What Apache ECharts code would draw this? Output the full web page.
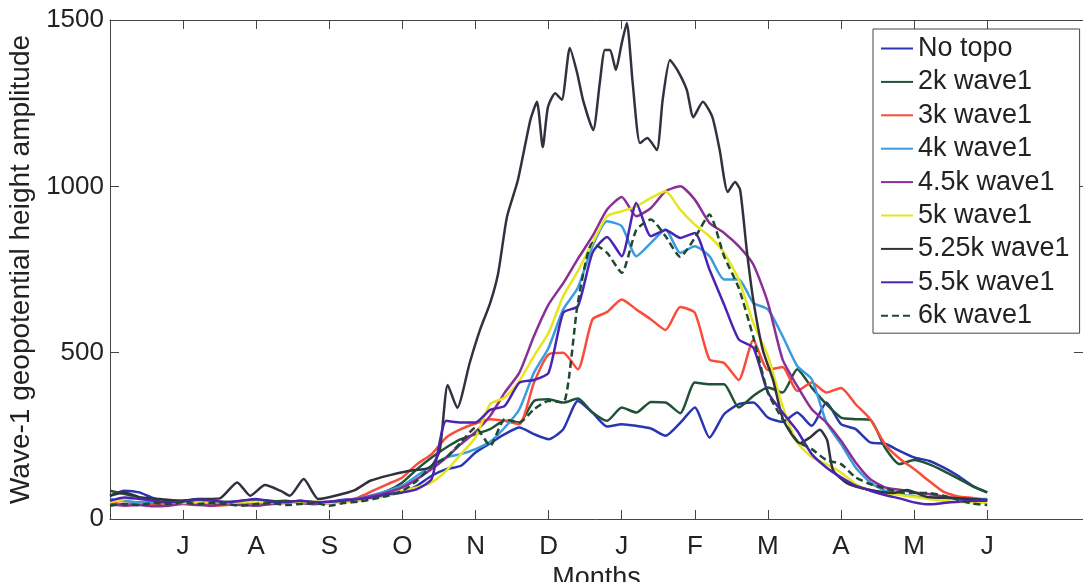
<!DOCTYPE html>
<html><head><meta charset="utf-8">
<script src="https://cdn.jsdelivr.net/npm/echarts@6/dist/echarts.min.js"></script>
<style>html,body{margin:0;padding:0;background:#fff}#c{width:1083px;height:582px}</style>
</head><body><div id="c"></div>
<script>
// ---- Data (months since June 1) ----
const monthLabels = ['J','A','S','O','N','D','J','F','M','A','M','J'];
const tickMonths = [1,2,3,4,5,6,7,8,9,10,11,12];
const seriesNames = ['No topo','2k wave1','3k wave1','4k wave1','4.5k wave1','5k wave1','5.25k wave1','5.5k wave1','6k wave1'];

const monthGrid = [0,0.2,0.4,0.6,0.8,1,1.2,1.4,1.6,1.8,2,2.2,2.4,2.6,2.8,3,3.2,3.4,3.6,3.8,4,4.2,4.4,4.6,4.8,5,5.2,5.4,5.6,5.8,6,6.2,6.4,6.6,6.8,7,7.2,7.4,7.6,7.8,8,8.2,8.4,8.6,8.8,9,9.2,9.4,9.6,9.8,10,10.2,10.4,10.6,10.8,11,11.2,11.4,11.6,11.8,12];

const noTopo = [70,85,80,62,55,55,60,55,50,55, 58,55,50,55,50,52,58,60,65,72, 80,100,130,150,160,200,228,255,275,255, 240,270,355,320,278,285,280,272,250,289, 335,245,315,345,350,305,292,320,280,350, 285,270,230,226,205,185,175,155,130,100, 80];
const twoK = [85,75,65,60,55,52,55,50,52,50, 48,52,55,50,52,48,55,60,70,85, 110,150,185,215,240,255,270,295,290,355, 360,350,362,320,295,335,320,352,350,318, 410,405,405,335,370,395,380,450,395,345, 305,300,298,215,165,177,165,145,122,98, 80];
const threeK = [50,45,50,45,48,50,45,40,42,48, 50,45,48,50,45,48,55,65,85,105, 125,165,195,245,270,287,300,295,285,410, 495,500,450,600,622,660,630,600,568,637, 620,480,469,418,538,448,457,385,410,380, 394,345,300,225,182,150,115,82,68,63, 57];
const fourK = [60,55,50,52,48,50,52,48,50,52, 50,48,50,52,48,50,55,62,72,85, 100,130,160,185,195,210,232,275,330,440, 515,630,695,820,895,880,790,830,870,800, 820,790,720,720,650,630,550,460,420,290, 225,155,110,85,75,68,65,63,62,60, 60];
const fourHalfK = [45,40,42,38,40,45,42,40,45,42, 40,45,50,48,45,50,55,60,70,80, 95,120,150,185,225,262,310,380,440,550, 645,709,782,850,930,968,910,935,985,1000, 960,890,860,820,765,650,480,400,330,290, 235,170,120,95,88,80,75,68,62,60, 55];
const fiveK = [50,60,65,55,50,48,50,52,48,50, 52,50,48,50,52,48,50,55,62,70, 85,95,110,145,195,245,345,365,415,490, 560,670,745,830,910,925,940,965,985,930, 885,850,800,720,589,490,340,230,186,165, 140,105,87,78,72,66,60,55,50,50, 48];
const fiveQuarterMonths = [0,0.2,0.41,0.68,0.96,1.23,1.5,1.74,1.92,2.12,2.33,2.46,2.65,2.85,3.08,3.35,3.56,3.83,4.10,4.38,4.51,4.62,4.75,4.92,5.06,5.20,5.31,5.43,5.58,5.75,5.84,5.92,5.99,6.09,6.18,6.29,6.39,6.47,6.61,6.70,6.77,6.84,6.92,7.00,7.07,7.15,7.25,7.35,7.48,7.56,7.66,7.76,7.89,7.98,8.11,8.24,8.34,8.45,8.55,8.62,8.71,8.80,8.93,9.07,9.21,9.44,9.58,9.71,9.81,9.89,10.08,10.40,10.71,10.90,11.18,11.53,12.0];
const fiveQuarterK = [70,80,65,60,55,60,62,110,70,102,85,70,120,60,70,87,115,132,145,155,207,403,334,469,568,649,739,908,1019,1199,1254,1118,1238,1280,1260,1416,1341,1260,1169,1311,1410,1410,1350,1430,1491,1311,1130,1145,1109,1260,1380,1350,1290,1208,1254,1208,1109,983,1013,989,809,658,508,418,298,228,246,268,237,147,108,87,78,87,66,63,57];
const fiveHalfK = [55,65,60,55,50,52,58,55,50,55, 60,52,50,55,50,52,55,60,65,75, 80,90,120,295,290,290,328,340,410,418, 440,620,640,800,848,790,950,850,869,845, 860,750,645,540,515,380,320,265,195,155, 125,100,85,72,62,50,44,48,52,55, 55];
const sixK = [40,45,42,48,45,50,45,48,45,40, 45,48,42,45,48,40,48,52,60,70, 85,115,160,185,230,275,220,300,290,330, 355,350,650,830,800,740,869,900,850,788, 845,915,790,695,547,380,300,235,210,177, 165,125,105,92,80,78,78,70,58,46, 42];

const colors = ['#2a36b1','#1f5236','#fb4b3a','#3b9be0','#8a2f96','#e6e51e','#32323f','#4b24b2','#1d4a30'];

// ---- Chart ----
const FONT = "'Liberation Sans', Arial, Helvetica, sans-serif";
const axisColor = '#444';
const pair = (xs, ys) => xs.map((x, i) => [x, ys[i]]);
const seriesData = [
  pair(monthGrid, noTopo), pair(monthGrid, twoK), pair(monthGrid, threeK), pair(monthGrid, fourK),
  pair(monthGrid, fourHalfK), pair(monthGrid, fiveK), pair(fiveQuarterMonths, fiveQuarterK),
  pair(monthGrid, fiveHalfK), pair(monthGrid, sixK)
];

const chart = echarts.init(document.getElementById('c'), null, {renderer: 'canvas'});
const xCommon = {
  type: 'value', min: 0, max: 13.31, splitLine: {show: false},
  axisLine: {show: true, onZero: false, lineStyle: {color: axisColor, width: 1}},
  axisTick: {show: true, inside: true, length: 9, customValues: tickMonths, lineStyle: {color: axisColor}}
};
const yCommon = {
  type: 'value', min: 0, max: 1500, interval: 500, splitLine: {show: false},
  axisLine: {show: true, onZero: false, lineStyle: {color: axisColor, width: 1}},
  axisTick: {show: true, inside: true, length: 9, lineStyle: {color: axisColor}}
};
chart.setOption({
  animation: false,
  backgroundColor: '#fff',
  textStyle: {fontFamily: FONT},
  grid: {left: 110, right: 0, top: 20, bottom: 63, containLabel: false, outerBoundsMode: 'none'},
  legend: {
    orient: 'vertical', left: 873, top: 29, padding: [6, 10, 4, 7],
    itemGap: 6.4, itemWidth: 32, itemHeight: 14,
    backgroundColor: '#fff', borderColor: '#444', borderWidth: 1,
    itemStyle: {opacity: 0, borderWidth: 0},
    textStyle: {fontSize: 27, color: '#222', fontFamily: FONT, lineHeight: 27},
    data: seriesNames
  },
  xAxis: [
    Object.assign({}, xCommon, {
      position: 'bottom',
      axisLabel: {customValues: tickMonths, formatter: v => monthLabels[Math.round(v) - 1], fontSize: 26, color: '#222', margin: 15, fontFamily: FONT},
      name: 'Months', nameLocation: 'middle', nameGap: 45,
      nameTextStyle: {fontSize: 27, color: '#222', fontFamily: FONT}
    }),
    Object.assign({}, xCommon, {position: 'top', axisLabel: {show: false}})
  ],
  yAxis: [
    Object.assign({}, yCommon, {
      position: 'left',
      axisLabel: {fontSize: 26, color: '#222', margin: 6, fontFamily: FONT, formatter: v => String(v)},
      name: 'Wave-1 geopotential height amplitude', nameLocation: 'middle', nameGap: 75,
      nameTextStyle: {fontSize: 28, color: '#222', fontFamily: FONT}
    }),
    Object.assign({}, yCommon, {position: 'right', axisLabel: {show: false}})
  ],
  series: seriesNames.map((name, i) => ({
    name, type: 'line', xAxisIndex: 0, yAxisIndex: 0,
    data: seriesData[i], symbol: 'none', showSymbol: false, smooth: 0.2,
    color: colors[i],
    lineStyle: {color: colors[i], width: 2.5, type: i === 8 ? [7, 4] : 'solid'}
  }))
});
</script></body></html>
